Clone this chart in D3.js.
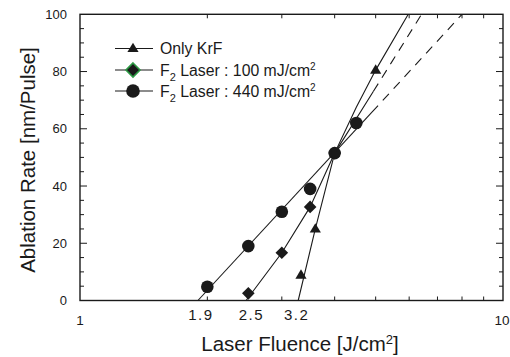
<!DOCTYPE html>
<html>
<head>
<meta charset="utf-8">
<script src="https://cdn.jsdelivr.net/npm/d3@7/dist/d3.min.js"></script>
<style>
  body { margin: 0; background: #fff; }
  text { font-family: "Liberation Sans", Arial, sans-serif; fill: #1a1a1a; }
</style>
</head>
<body>
<div id="chart"></div>
<script>
// measured points
var krfFluence = [3.33, 3.6, 4.0, 5.0]
var krfRate = [8.9, 25, 51.5, 80.5]
var f100Fluence = [2.5, 3.0, 3.5, 4.0]
var f100Rate = [2.5, 16.7, 32.7, 51.5]
var f440Fluence = [2.0, 2.5, 3.0, 3.5, 4.0, 4.5]
var f440Rate = [4.8, 19, 31, 39, 51.5, 62]

// fitted curves (solid) and extrapolations (dashed)
var krfFitFluence = [3.28, 3.6, 4.0, 4.5, 5.0, 5.97]
var krfFitRate = [0, 25, 51.5, 67.5, 80.5, 100]
var f100FitFluence = [2.47, 3.0, 3.5, 4.0, 4.94]
var f100FitRate = [0, 16.7, 32.7, 51.5, 73.1]
var f100ExtFluence = [4.94, 6.42]
var f100ExtRate = [73.1, 100]
var f440FitFluence = [1.9, 4.9]
var f440FitRate = [0, 65.8]
var f440ExtFluence = [4.9, 8.0]
var f440ExtRate = [65.8, 100]

var xTickLabels = [1.9, 2.5, 3.2]
var xEndLabels = [1, 10]
var yTickLabels = [0, 20, 40, 60, 80, 100]

var w = 510
var h = 357
var ink = "#1a1a1a"

var svg = d3.select("#chart").append("svg")
    .attr("width", w)
    .attr("height", h)

var x = d3.scaleLog().domain([1, 10]).range([80, 503])
var y = d3.scaleLinear().domain([0, 100]).range([300.5, 14.3])

function zip(a, b) { return a.map((v, i) => [v, b[i]]) }

// frame
svg.append("rect")
   .attr("x", x(1)).attr("y", y(100))
   .attr("width", x(10) - x(1)).attr("height", y(0) - y(100))
   .attr("fill", "none").attr("stroke", ink).attr("stroke-width", 1.4)

// ticks
var xMinor = [2, 3, 4, 5, 6, 7, 8, 9]
var yMinor = d3.range(5, 100, 5)
var tg = svg.append("g").attr("stroke", ink).attr("stroke-width", 1)
xMinor.forEach(v => {
  tg.append("line").attr("x1", x(v)).attr("x2", x(v)).attr("y1", y(0)).attr("y2", y(0) - 4)
  tg.append("line").attr("x1", x(v)).attr("x2", x(v)).attr("y1", y(100)).attr("y2", y(100) + 4)
})
yMinor.forEach(v => {
  var len = v % 20 === 0 ? 7 : 4
  tg.append("line").attr("x1", x(1)).attr("x2", x(1) + len).attr("y1", y(v)).attr("y2", y(v))
  tg.append("line").attr("x1", x(10)).attr("x2", x(10) - len).attr("y1", y(v)).attr("y2", y(v))
})

// tick labels
svg.selectAll(".ylab").data(yTickLabels).enter().append("text")
   .attr("x", 67).attr("y", d => y(d) + 4.5)
   .attr("text-anchor", "end").attr("font-size", 13)
   .text(d => d)

svg.selectAll(".xlab").data(xTickLabels).enter().append("text")
   .attr("x", d => x(d) + 3).attr("y", 319.5)
   .attr("text-anchor", "middle").attr("font-size", 15)
   .attr("letter-spacing", 1.5)
   .text(d => d.toFixed(1))

svg.selectAll(".xend").data(xEndLabels).enter().append("text")
   .attr("x", d => x(d) - (d === 10 ? 1 : 0)).attr("y", 325)
   .attr("text-anchor", "middle").attr("font-size", 13.5)
   .text(d => d)

// axis titles
var xt = svg.append("text")
   .attr("x", 300).attr("y", 351)
   .attr("text-anchor", "middle").attr("font-size", 20.5)
xt.append("tspan").text("Laser Fluence [J/cm")
xt.append("tspan").attr("font-size", 13).attr("dy", -7).text("2")
xt.append("tspan").attr("dy", 7).text("]")

svg.append("text")
   .attr("transform", "translate(35,160) rotate(-90)")
   .attr("text-anchor", "middle").attr("font-size", 20.5)
   .text("Ablation Rate [nm/Pulse]")

// lines
var line = d3.line().x(d => x(d[0])).y(d => y(d[1]))
var lg = svg.append("g").attr("fill", "none").attr("stroke", ink).attr("stroke-width", 1.1)

lg.append("path").attr("d", line(zip(krfFitFluence, krfFitRate)))
lg.append("path").attr("d", line(zip(f100FitFluence, f100FitRate)))
lg.append("path").attr("d", line(zip(f440FitFluence, f440FitRate)))
lg.append("path").attr("d", line(zip(f100ExtFluence, f100ExtRate))).attr("stroke-dasharray", "9,7")
lg.append("path").attr("d", line(zip(f440ExtFluence, f440ExtRate))).attr("stroke-dasharray", "9,7")

// markers
var triPath = "M0,-5.8L5.6,3.6L-5.6,3.6Z"
var diaPath = "M0,-6.3L6.3,0L0,6.3L-6.3,0Z"

svg.selectAll(".f440").data(zip(f440Fluence, f440Rate)).enter().append("circle")
   .attr("cx", d => x(d[0])).attr("cy", d => y(d[1])).attr("r", 6.3)
   .attr("fill", ink)

svg.selectAll(".f100").data(zip(f100Fluence, f100Rate)).enter().append("path")
   .attr("d", diaPath)
   .attr("transform", d => "translate(" + x(d[0]) + "," + y(d[1]) + ")")
   .attr("fill", ink)

svg.selectAll(".krf").data(zip(krfFluence, krfRate)).enter().append("path")
   .attr("d", triPath)
   .attr("transform", d => "translate(" + x(d[0]) + "," + y(d[1]) + ")")
   .attr("fill", ink)

// legend
var legendRows = [
  {y: 48.5, mark: "tri", label: "Only KrF", unit: false},
  {y: 70, mark: "dia", label: "100", unit: true},
  {y: 91, mark: "circ", label: "440", unit: true}
]
var leg = svg.append("g")
legendRows.forEach(r => {
  leg.append("line").attr("x1", 115).attr("x2", 153).attr("y1", r.y).attr("y2", r.y)
     .attr("stroke", ink).attr("stroke-width", 1.1)
  if (r.mark === "tri") {
    leg.append("path").attr("d", triPath).attr("transform", "translate(133," + r.y + ")").attr("fill", ink)
  } else if (r.mark === "dia") {
    leg.append("path").attr("d", "M0,-7L7,0L0,7L-7,0Z").attr("transform", "translate(133," + r.y + ")")
       .attr("fill", ink).attr("stroke", "#2e9a45").attr("stroke-width", 1.6)
  } else {
    leg.append("circle").attr("cx", 133).attr("cy", r.y).attr("r", 6.8).attr("fill", ink)
  }
  var t = leg.append("text").attr("x", 160).attr("y", r.y + 5.5).attr("font-size", 15.8)
  if (!r.unit) {
    t.text(r.label)
  } else {
    t.append("tspan").text("F")
    t.append("tspan").attr("font-size", 11).attr("dy", 5).text("2")
    t.append("tspan").attr("dy", -5).text(" Laser : " + r.label + " mJ/cm")
    t.append("tspan").attr("font-size", 10).attr("dy", -6).text("2")
  }
})
</script>
</body>
</html>
